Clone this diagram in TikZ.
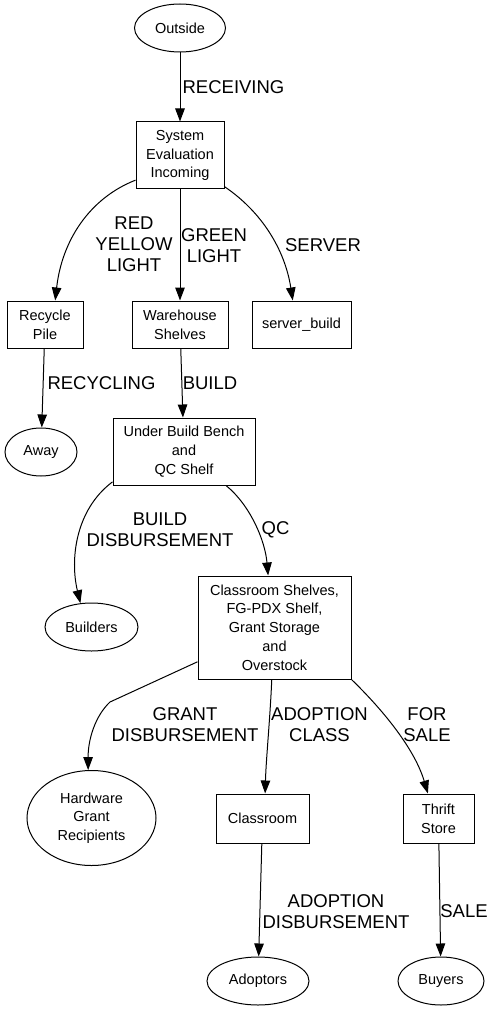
\documentclass[tikz,border=0pt]{standalone}
\usepackage{fontspec}
\setmainfont{Liberation Sans}
\usetikzlibrary{arrows.meta,shapes.geometric}
\begin{document}
\begin{tikzpicture}[x=1pt,y=-1pt,
  box/.style={draw,line width=1pt,inner sep=0pt,align=center,font=\fontsize{14.5}{18.7}\selectfont},
  oval/.style={draw,ellipse,line width=1pt,inner sep=0pt,align=center,font=\fontsize{14.5}{18.7}\selectfont},
  lbl/.style={align=center,inner sep=0pt,font=\fontsize{18.5}{21}\selectfont},
  arr/.style={-{Triangle[length=13pt,width=9.5pt]},line width=1pt}]
  \useasboundingbox (0,0) rectangle (495,1011);
  % Intake
  \node[oval,minimum width=91pt,minimum height=48pt] (out) at (180,28) {Outside};
  \node[box,minimum width=88pt,minimum height=67pt] (sys) at (180,155.5) {System\\Evaluation\\Incoming};
  \draw[arr] (out)--(sys);
  \node[lbl] at (233.5,87) {RECEIVING};
  % Sorting
  \node[box,minimum width=76pt,minimum height=47pt] (rec) at (45,324.5) {Recycle\\Pile};
  \node[box,minimum width=96pt,minimum height=47pt] (wh) at (180,324.5) {Warehouse\\Shelves};
  \node[box,minimum width=99pt,minimum height=47pt] (srv) at (301.5,324.5) {server\_build};
  \draw[arr] (sys.209) .. controls (90,198) and (62,240) .. (rec.67);
  \draw[arr] (sys)--(wh);
  \draw[arr] (sys.-35) .. controls (262,212) and (285,250) .. (srv.110);
  \node[lbl] at (134,244.5) {RED\\YELLOW\\LIGHT};
  \node[lbl] at (214,245.5) {GREEN\\LIGHT};
  \node[lbl] at (323,245) {SERVER};
  % Build
  \node[oval,minimum width=72pt,minimum height=48pt] (away) at (41,452) {Away};
  \node[box,minimum width=142pt,minimum height=67pt] (ubb) at (184,451.5) {Under Build Bench\\and\\QC Shelf};
  \draw[arr] (rec)--(away);
  \draw[arr] (wh)--(ubb);
  \node[lbl] at (101.5,383) {RECYCLING};
  \node[lbl] at (210,383) {BUILD};
  \node[oval,minimum width=93pt,minimum height=48pt] (bld) at (91.5,627) {Builders};
  \node[box,minimum width=153pt,minimum height=103pt] (cs) at (274.5,627.5) {Classroom Shelves,\\FG-PDX Shelf,\\Grant Storage\\and\\Overstock};
  \draw[arr] (ubb.203) .. controls (75,510) and (70,560) .. (bld.115);
  \draw[arr] (ubb.-39) .. controls (250,505) and (265,540) .. (cs.97);
  \node[lbl] at (160,530) {BUILD\\DISBURSEMENT};
  \node[lbl] at (275.5,530) {QC};
  % Disbursement
  \node[oval,minimum width=129pt,minimum height=95pt] (hgr) at (91.5,818) {Hardware\\Grant\\Recipients};
  \node[box,minimum width=93pt,minimum height=49pt] (cls) at (262.5,818.5) {Classroom};
  \node[box,minimum width=71pt,minimum height=49pt] (thr) at (438.5,818.5) {Thrift\\Store};
  \draw[arr] (cs.204) -- (110,702) .. controls (95,716) and (88,740) .. (hgr.94);
  \draw[arr] (cs.267) .. controls (270,720) and (266,760) .. (cls.84);
  \draw[arr] (cs.south east) .. controls (385,712) and (415,750) .. (thr.113);
  \node[lbl] at (185,725) {GRANT\\DISBURSEMENT};
  \node[lbl] at (319.5,725) {ADOPTION\\CLASS};
  \node[lbl] at (427,725) {FOR\\SALE};
  \node[oval,minimum width=102pt,minimum height=48pt] (adp) at (258,981) {Adoptors};
  \node[oval,minimum width=86pt,minimum height=48pt] (buy) at (441,981) {Buyers};
  \draw[arr] (cls)--(adp);
  \draw[arr] (thr)--(buy);
  \node[lbl] at (336,911.5) {ADOPTION\\DISBURSEMENT};
  \node[lbl] at (464,911) {SALE};
\end{tikzpicture}
\end{document}
